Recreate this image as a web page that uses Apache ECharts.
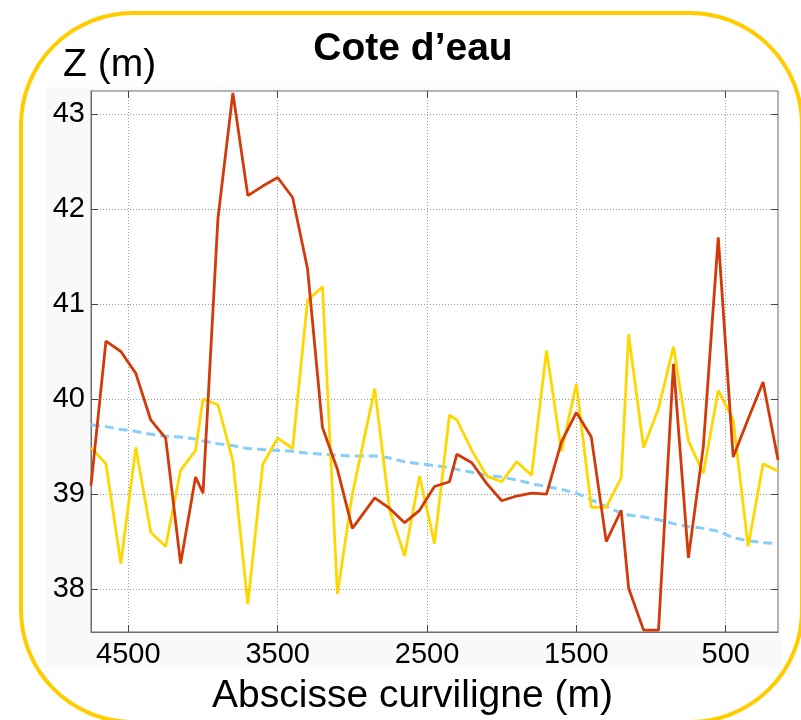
<!DOCTYPE html>
<html>
<head>
<meta charset="utf-8">
<script src="https://cdn.jsdelivr.net/npm/echarts@6/dist/echarts.min.js"></script>
<style>
  html, body { margin: 0; padding: 0; background: #ffffff; }
  #chart { width: 801px; height: 720px; }
</style>
</head>
<body>
<div id="chart"></div>
<script>
// Abscisse curviligne (m)
const distances = [4750, 4650, 4550, 4450, 4350, 4250, 4150, 4050, 4000, 3900,
  3800, 3700, 3600, 3500, 3400, 3300, 3200, 3100, 3000, 2850,
  2750, 2650, 2550, 2450, 2350, 2300, 2200, 2100, 2000, 1900,
  1800, 1700, 1600, 1500, 1400, 1300, 1200, 1150, 1050, 950,
  850, 750, 650, 550, 450, 350, 250, 150];

// Cote (m) - red series
const coteRouge = [39.09, 40.61, 40.50, 40.27, 39.78, 39.59, 38.27, 39.18, 39.01, 41.90,
  43.22, 42.14, 42.24, 42.33, 42.12, 41.37, 39.70, 39.26, 38.64, 38.96,
  38.85, 38.70, 38.83, 39.08, 39.13, 39.42, 39.33, 39.11, 38.93, 38.98,
  39.01, 39.00, 39.55, 39.86, 39.60, 38.50, 38.83, 38.01, 37.57, 37.57,
  40.37, 38.33, 39.50, 41.70, 39.39, 39.79, 40.18, 39.36];

// Cote (m) - yellow series
const coteJaune = [39.49, 39.32, 38.27, 39.49, 38.60, 38.45, 39.25, 39.46, 40.00, 39.94,
  39.35, 37.84, 39.31, 39.59, 39.48, 41.04, 41.18, 37.95, 39.00, 40.11,
  38.83, 38.35, 39.19, 38.48, 39.83, 39.78, 39.46, 39.19, 39.13, 39.34,
  39.20, 40.51, 39.45, 40.16, 38.86, 38.86, 39.17, 40.68, 39.49, 39.90,
  40.55, 39.56, 39.22, 40.09, 39.78, 38.45, 39.32, 39.24];

// Cote (m) - light blue dashed series
const coteBleue = [39.73, 39.71, 39.68, 39.66, 39.63, 39.61, 39.60, 39.58, 39.56, 39.53,
  39.51, 39.48, 39.47, 39.46, 39.45, 39.43, 39.42, 39.41, 39.40, 39.40,
  39.38, 39.34, 39.32, 39.30, 39.28, 39.26, 39.23, 39.20, 39.18, 39.15,
  39.11, 39.08, 39.05, 39.01, 38.94, 38.87, 38.80, 38.78, 38.76, 38.73,
  38.69, 38.66, 38.64, 38.61, 38.54, 38.51, 38.49, 38.48];

const xTicks = [500, 1500, 2500, 3500, 4500];
const yTicks = [38, 39, 40, 41, 42, 43];

const titleText = 'Cote d’eau';
const yName = 'Z (m)';
const xName = 'Abscisse curviligne (m)';

const pairs = vals => distances.map((d, i) => [d, vals[i]]);

const FONT = '"Liberation Sans", Arial, sans-serif';
const frameColor = '#6e6e6e';
const gridDash = { color: '#9a9a9a', width: 1, type: [1, 2] };

const X_MIN = 150, X_MAX = 4750, Y_MIN = 37.55, Y_MAX = 43.24;

function xAxisCfg(pos, primary) {
  return {
    type: 'value', position: pos, min: X_MIN, max: X_MAX, inverse: true,
    axisLine: { show: primary, lineStyle: { color: frameColor, width: 1 } },
    axisTick: { show: true, inside: true, length: 7, customValues: xTicks, lineStyle: { color: '#444', width: 1 } },
    axisLabel: { show: primary, customValues: xTicks, margin: 8, fontSize: 29, color: '#000', fontFamily: FONT,
      formatter: v => String(v) },
    splitLine: { show: primary, lineStyle: gridDash }
  };
}
function yAxisCfg(pos, primary) {
  return {
    type: 'value', position: pos, min: Y_MIN, max: Y_MAX,
    axisLine: { show: primary, lineStyle: { color: frameColor, width: 1 } },
    axisTick: { show: true, inside: true, length: 7, customValues: yTicks, lineStyle: { color: '#444', width: 1 } },
    axisLabel: { show: primary, customValues: yTicks, margin: 6, fontSize: 29, color: '#000', fontFamily: FONT,
      formatter: v => String(v) },
    splitLine: { show: primary, lineStyle: gridDash }
  };
}

const chart = echarts.init(document.getElementById('chart'), null, { renderer: 'canvas' });
chart.setOption({
  animation: false,
  backgroundColor: '#ffffff',
  grid: {
    left: 91, top: 91, width: 687, height: 541,
    show: true, backgroundColor: '#ffffff', borderColor: frameColor, borderWidth: 1
  },
  xAxis: [xAxisCfg('bottom', true), xAxisCfg('top', false)],
  yAxis: [yAxisCfg('left', true), yAxisCfg('right', false)],
  graphic: [
    { type: 'rect', z: -20, silent: true,
      shape: { x: 45, y: 87, width: 736, height: 581 },
      style: { fill: '#f9f9f9' } },
    { type: 'rect', z: 100, silent: true,
      shape: { x: 21, y: 13, width: 781, height: 709, r: 112 },
      style: { fill: 'none', stroke: '#FFCC00', lineWidth: 4 } },
    { type: 'text', z: 100, x: 413, y: 49,
      style: { text: titleText, font: 'bold 39px ' + FONT, fill: '#000', align: 'center', verticalAlign: 'middle' } },
    { type: 'text', z: 100, x: 63, y: 65,
      style: { text: yName, font: '39px ' + FONT, fill: '#000', align: 'left', verticalAlign: 'middle' } },
    { type: 'text', z: 100, x: 412.5, y: 696,
      style: { text: xName, font: '39px ' + FONT, fill: '#000', align: 'center', verticalAlign: 'middle' } }
  ],
  series: [
    { type: 'line', name: 'bleu', data: pairs(coteBleue), showSymbol: false, z: 2,
      lineStyle: { color: '#87CEFA', width: 3, type: [9, 5] } },
    { type: 'line', name: 'jaune', data: pairs(coteJaune), showSymbol: false, z: 3,
      lineStyle: { color: '#FFD700', width: 2.8 } },
    { type: 'line', name: 'rouge', data: pairs(coteRouge), showSymbol: false, z: 4,
      lineStyle: { color: '#D33A0A', width: 2.8 } }
  ]
});
</script>
</body>
</html>
